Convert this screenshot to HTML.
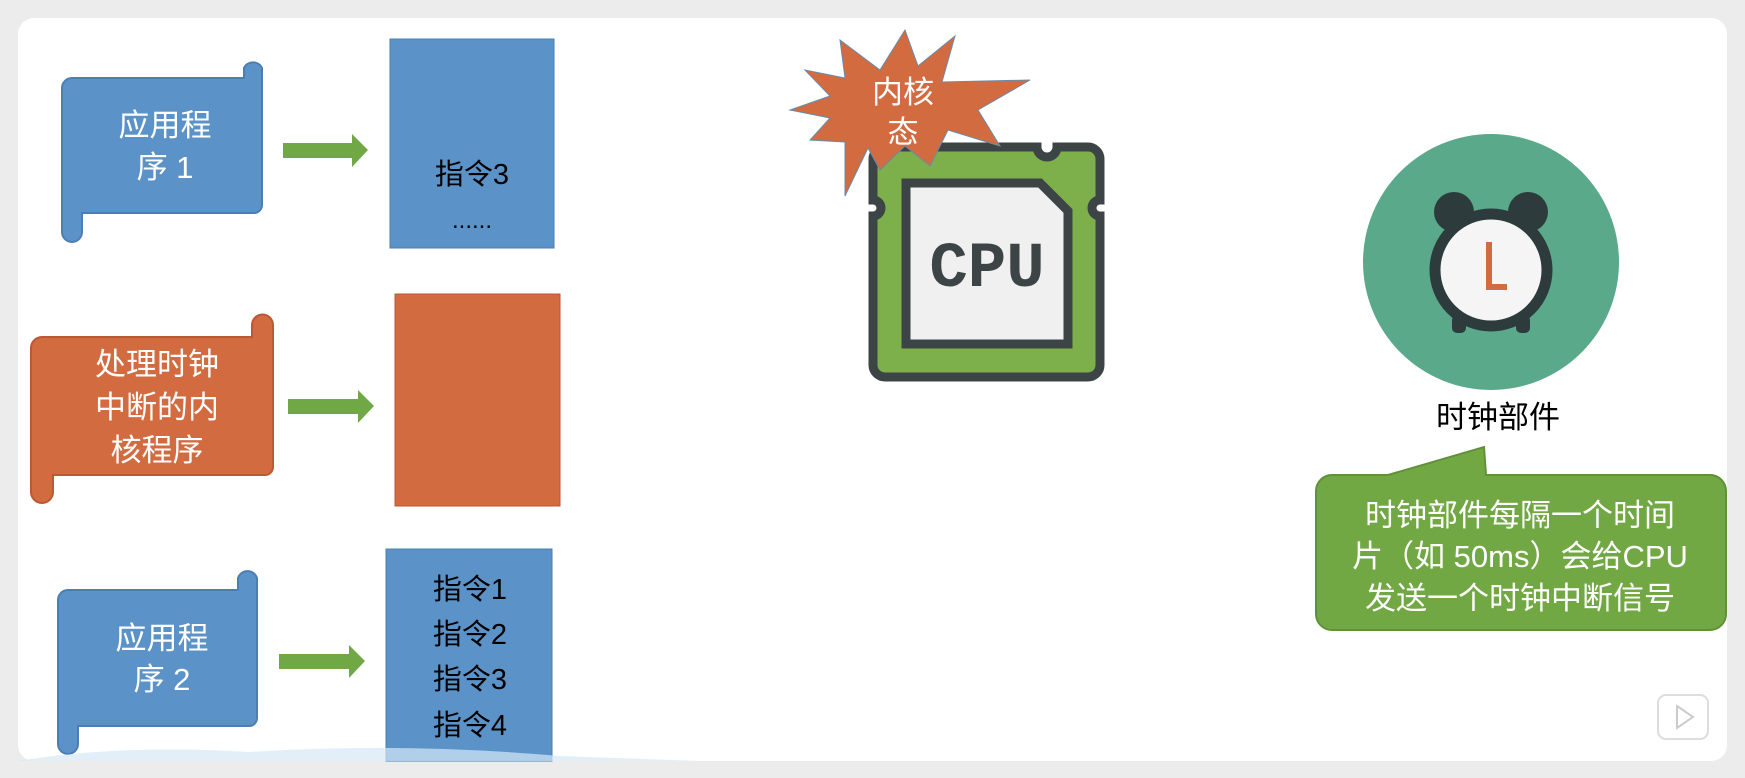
<!DOCTYPE html>
<html><head><meta charset="utf-8"><style>
html,body{margin:0;padding:0;background:#e9e9e9;}
svg{display:block}
text{font-family:"Liberation Sans","Noto Sans CJK SC",sans-serif;}
</style></head><body>
<svg width="1745" height="778" viewBox="0 0 1745 778" xmlns="http://www.w3.org/2000/svg">
<rect x="0" y="0" width="1745" height="778" fill="#ececec"/>
<rect x="18" y="18" width="1709" height="743" rx="16" fill="#ffffff"/>

<g>
<path d="M72 78 H244 V68 a10 10 0 0 1 18 0 V205 a8 8 0 0 1 -8 8 H82 V232 a10 10 0 0 1 -20 0 V88 a10 10 0 0 1 10 -10 Z" fill="#5b93c8" stroke="#4a7fb3" stroke-width="2"/>
<text x="165" y="136" font-size="31" fill="#fff" text-anchor="middle">应用程</text>
<text x="165" y="178" font-size="31" fill="#fff" text-anchor="middle">序 1</text>
</g>
<path d="M283 143 H352 V134 L368 150 L352 167 V158 H283 Z" fill="#70a845"/>
<rect x="390" y="39" width="164" height="209" fill="#5b93c8" stroke="#4a7fb3"/>
<text x="472" y="184" font-size="29" fill="#000" text-anchor="middle">指令3</text>
<text x="472" y="228" font-size="24" fill="#000" text-anchor="middle">......</text>

<g>
<path d="M42 337 H252 V325 a10 10 0 0 1 21 0 V467 a8 8 0 0 1 -8 8 H53 V492 a11 11 0 0 1 -22 0 V348 a11 11 0 0 1 11 -11 Z" fill="#d36b40" stroke="#b85a33" stroke-width="2"/>
<text x="157" y="375" font-size="31" fill="#fff" text-anchor="middle">处理时钟</text>
<text x="157" y="418" font-size="31" fill="#fff" text-anchor="middle">中断的内</text>
<text x="157" y="461" font-size="31" fill="#fff" text-anchor="middle">核程序</text>
</g>
<path d="M288 399 H358 V390 L374 406 L358 423 V414 H288 Z" fill="#70a845"/>
<rect x="395" y="294" width="165" height="212" fill="#d36b40" stroke="#b85a33"/>

<g>
<path d="M68 590 H238 V578 a10 10 0 0 1 19 0 V718 a8 8 0 0 1 -8 8 H78 V744 a10 10 0 0 1 -20 0 V600 a10 10 0 0 1 10 -10 Z" fill="#5b93c8" stroke="#4a7fb3" stroke-width="2"/>
<text x="162" y="649" font-size="31" fill="#fff" text-anchor="middle">应用程</text>
<text x="162" y="690" font-size="31" fill="#fff" text-anchor="middle">序 2</text>
</g>
<path d="M279 654 H349 V645 L365 661 L349 678 V669 H279 Z" fill="#70a845"/>
<rect x="386" y="549" width="166" height="212" fill="#5b93c8" stroke="#4a7fb3"/>
<text x="470" y="599" font-size="29" fill="#000" text-anchor="middle">指令1</text>
<text x="470" y="644" font-size="29" fill="#000" text-anchor="middle">指令2</text>
<text x="470" y="689" font-size="29" fill="#000" text-anchor="middle">指令3</text>
<text x="470" y="735" font-size="29" fill="#000" text-anchor="middle">指令4</text>
<path d="M18 761 Q120 744 250 752 Q400 742 560 756 L700 761 Z" fill="#d5e8f5" opacity="0.7"/>

<g>
<path d="M885 147 H1037 a10 10 0 0 0 20 0 H1088 a12 12 0 0 1 12 12 V200 a8 8 0 0 0 0 16 V365 a12 12 0 0 1 -12 12 H885 a12 12 0 0 1 -12 -12 V216 a8 8 0 0 0 0 -16 V159 a12 12 0 0 1 12 -12 Z" fill="#7db04b" stroke="#3d4446" stroke-width="9"/>
<path d="M906 183 H1040 L1068 211 V344 H906 Z" fill="#f0f0f0" stroke="#3d4446" stroke-width="9"/>
<text x="987" y="286" font-size="64" font-weight="bold" fill="#3d4446" text-anchor="middle" style="font-family:'Liberation Mono',monospace">CPU</text>
</g>

<polygon points="955,36 942,82 1030,80 978,110 1000,146 948,130 930,166 905,146 880,170 868,148 845,196 845,142 810,140 830,118 790,110 830,96 805,70 845,78 840,40 880,70 905,30 918,66" fill="#d36b40" stroke="#6a8aa8" stroke-width="1"/>
<text x="903" y="103" font-size="31" fill="#fff" text-anchor="middle">内核</text>
<text x="903" y="143" font-size="31" fill="#fff" text-anchor="middle">态</text>

<circle cx="1491" cy="262" r="128" fill="#5aa98a"/>
<circle cx="1454" cy="212" r="20" fill="#2e3b3d"/>
<circle cx="1528" cy="212" r="20" fill="#2e3b3d"/>
<rect x="1452" y="315" width="14" height="18" rx="5" fill="#2e3b3d"/>
<rect x="1516" y="315" width="14" height="18" rx="5" fill="#2e3b3d"/>
<circle cx="1491" cy="270" r="56" fill="#f5f5f5" stroke="#2e3b3d" stroke-width="11"/>
<path d="M1489 242 V287 H1507" fill="none" stroke="#d36b40" stroke-width="6"/>
<text x="1498" y="428" font-size="31" fill="#000" text-anchor="middle">时钟部件</text>

<path d="M1340 475 H1388 L1484 447 L1486 475 H1710 a16 16 0 0 1 16 16 V614 a16 16 0 0 1 -16 16 H1332 a16 16 0 0 1 -16 -16 V491 a16 16 0 0 1 16 -16 Z" fill="#72a844" stroke="#5f9138" stroke-width="2"/>
<text x="1520" y="526" font-size="31" fill="#fff" text-anchor="middle">时钟部件每隔一个时间</text>
<text x="1520" y="567" font-size="31" fill="#fff" text-anchor="middle">片（如 50ms）会给CPU</text>
<text x="1520" y="609" font-size="31" fill="#fff" text-anchor="middle">发送一个时钟中断信号</text>

<rect x="1658" y="695" width="50" height="44" rx="8" fill="#fff" stroke="#ddd" stroke-width="2"/>
<path d="M1677 706 L1693 717 L1677 728 Z" fill="none" stroke="#ccc" stroke-width="2"/>
</svg>
</body></html>
